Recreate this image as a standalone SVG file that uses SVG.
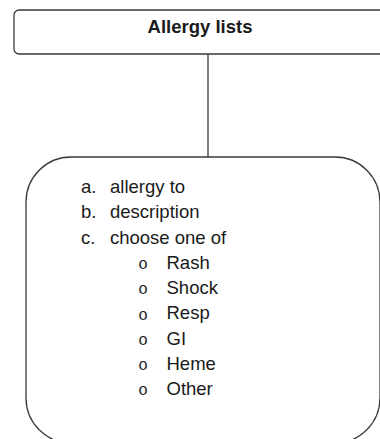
<svg xmlns="http://www.w3.org/2000/svg" width="380" height="439" viewBox="0 0 380 439">
  <style>
    .box { fill: #ffffff; stroke: #3a3a3a; stroke-width: 1.3; }
    .link { stroke: #2a2a2a; stroke-width: 1.2; fill: none; }
    .title { font-family: "Liberation Sans", Arial, sans-serif; font-size: 18.5px; font-weight: bold; fill: #1a1a1a; }
    .item { font-family: "Liberation Sans", Arial, sans-serif; font-size: 18.5px; fill: #1a1a1a; }
    .bullet { font-family: "Liberation Mono", "Courier New", monospace; font-size: 16px; fill: #1a1a1a; text-anchor: middle; }
  </style>

  <!-- connector between the header and the detail box -->
  <g id="connectors">
    <line class="link" x1="208" y1="54" x2="208" y2="157"/>
  </g>

  <!-- header node -->
  <g id="node-allergy-lists">
    <rect class="box" x="14" y="10" width="380" height="44" rx="5" ry="5"/>
    <text class="title" x="200" y="33" text-anchor="middle">Allergy lists</text>
  </g>

  <!-- detail node with the field list -->
  <g id="node-allergy-fields">
    <rect class="box" x="26" y="157" width="354" height="286" rx="45" ry="45"/>
    <text class="item" x="81" y="193">a.</text>
    <text class="item" x="110" y="193">allergy to</text>
    <text class="item" x="81" y="218.25">b.</text>
    <text class="item" x="110" y="218.25">description</text>
    <text class="item" x="81" y="243.5">c.</text>
    <text class="item" x="110" y="243.5">choose one of</text>

    <text class="bullet" x="143" y="269">o</text>
    <text class="item" x="166.5" y="268.75">Rash</text>
    <text class="bullet" x="143" y="294.25">o</text>
    <text class="item" x="166.5" y="294">Shock</text>
    <text class="bullet" x="143" y="319.5">o</text>
    <text class="item" x="166.5" y="319.25">Resp</text>
    <text class="bullet" x="143" y="344.75">o</text>
    <text class="item" x="166.5" y="344.5">GI</text>
    <text class="bullet" x="143" y="370">o</text>
    <text class="item" x="166.5" y="369.75">Heme</text>
    <text class="bullet" x="143" y="395.25">o</text>
    <text class="item" x="166.5" y="395">Other</text>
  </g>
</svg>
